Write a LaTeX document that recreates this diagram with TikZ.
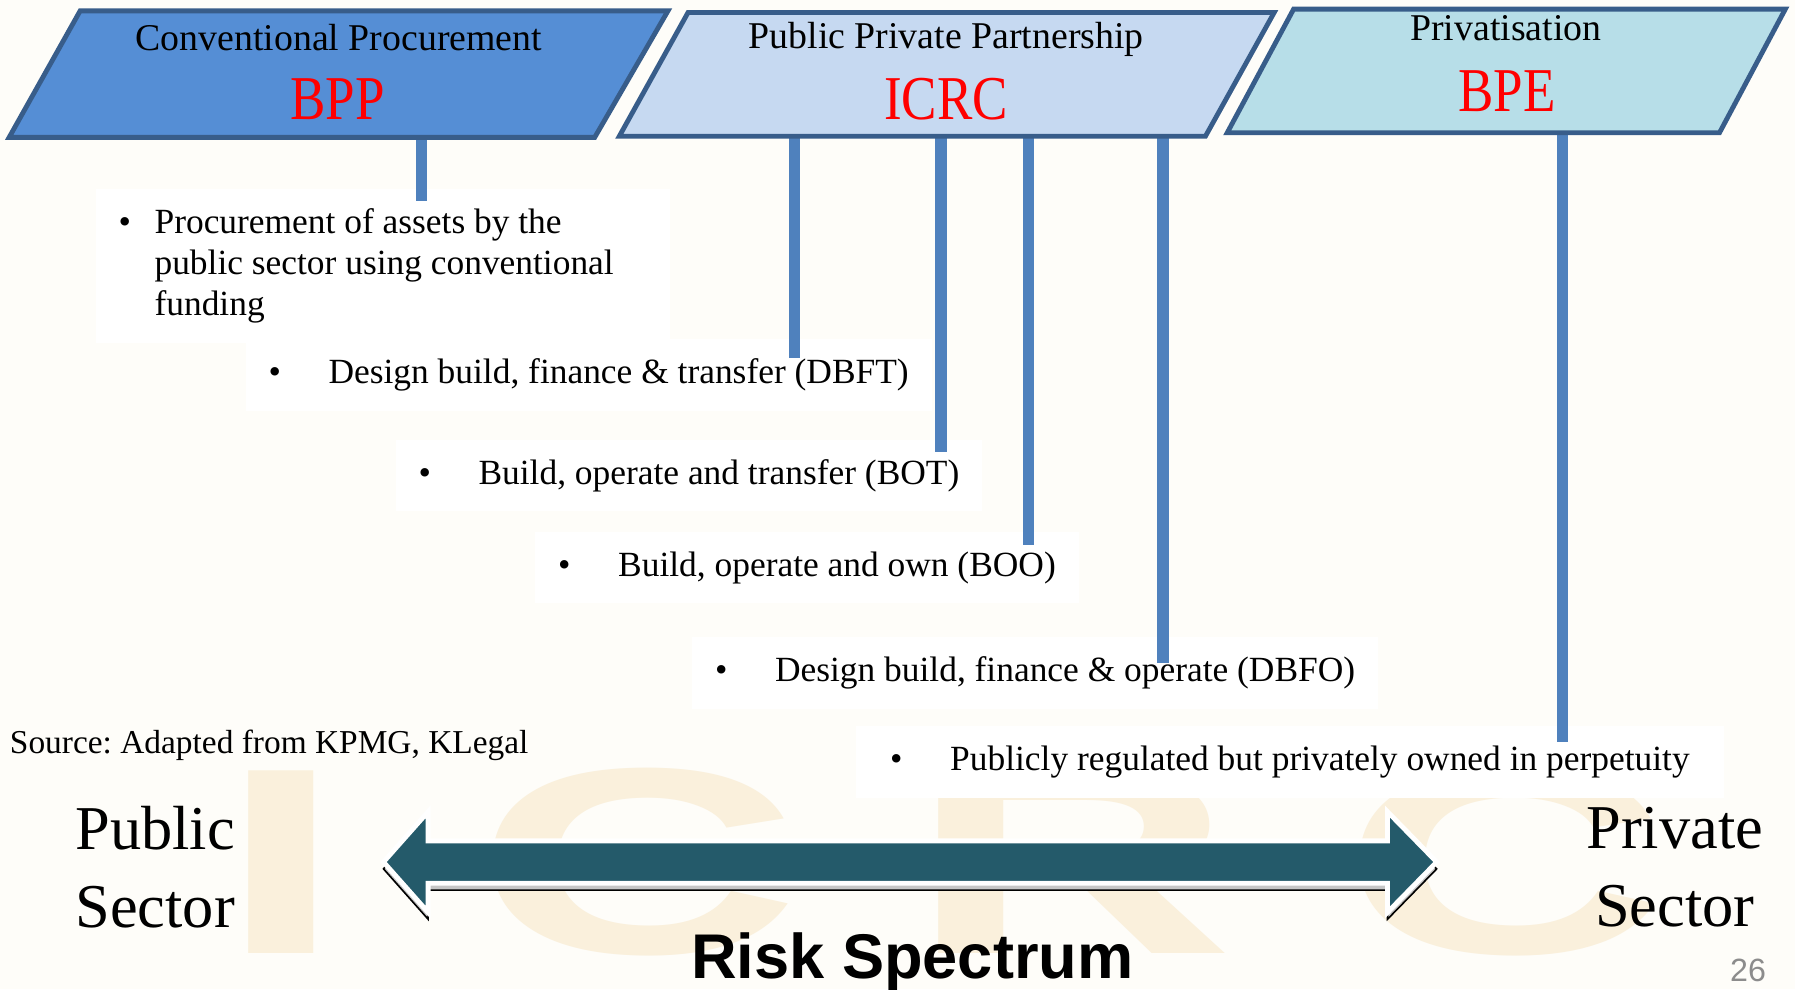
\documentclass[tikz,border=0pt]{standalone}
\usepackage{fontspec}
\setmainfont{Liberation Serif}
\newfontfamily\sansface{Liberation Sans}
\usepackage{graphicx}

\definecolor{pagebg}{RGB}{254,253,249}
\definecolor{convblue}{HTML}{558ED5}
\definecolor{pppblue}{HTML}{C6D9F1}
\definecolor{privteal}{HTML}{B7DEE8}
\definecolor{edgeblue}{HTML}{385D8A}
\definecolor{barblue}{HTML}{4F81BD}
\definecolor{arrowteal}{HTML}{245A6A}
\definecolor{markbeige}{RGB}{250,240,220}
\definecolor{pagegray}{RGB}{140,140,140}

\begin{document}
\begin{tikzpicture}[
    para/.style={draw=edgeblue, line width=1.2pt},
    head/.style={anchor=base, inner sep=0pt, font=\fontsize{9.4}{11}\selectfont},
    code/.style={anchor=base, inner sep=0pt, text=red, font=\fontsize{15.5}{18}\selectfont},
    item/.style={anchor=base west, fill=white, inner xsep=0.2cm, inner ysep=0.17cm,
      outer sep=0pt, font=\fontsize{8.8}{10.2}\selectfont},
    bar/.style={draw=barblue, line width=2.8pt},
    side/.style={align=center, inner sep=0pt, font=\fontsize{15.5}{19.3}\selectfont},
    logomark/.style={anchor=base west, inner sep=0pt, text=markbeige,
      font=\sansface\bfseries\fontsize{66}{70}\selectfont},
    shade/.style={fill=gray!45},
    spectrum/.style={fill=arrowteal, draw=white, line width=1.2pt}]
  \useasboundingbox[fill=pagebg] (0,0) rectangle (15.68,-8.64);

  % faint logo behind everything
  \node[logomark] (logo) at (1.90,-8.33) {\scalebox{1.7}[1]{I\hspace{0.675cm}C\hspace{0.55cm}R\hspace{0.55cm}C}};

  % the schemes
  \node[item] (procure) at (0.836,-2.04) {\textbullet\hspace{0.206cm}\parbox[t]{4.3cm}{Procurement of assets by the\\public sector using conventional\\funding}};
  \node[item] (dbft) at (2.146,-3.35) {\textbullet\hspace{0.416cm}Design build, finance \& transfer (DBFT)};
  \node[item] (bot) at (3.456,-4.23) {\textbullet\hspace{0.416cm}Build, operate and transfer (BOT)};
  \node[item] (boo) at (4.676,-5.035) {\textbullet\hspace{0.416cm}Build, operate and own (BOO)};
  \node[item] (dbfo) at (6.046,-5.955) {\textbullet\hspace{0.416cm}Design build, finance \& operate (DBFO)};
  \node[item, inner xsep=0.3cm] (regulated) at (7.476,-6.73) {\textbullet\hspace{0.416cm}Publicly regulated but privately owned in perpetuity};
  \node[anchor=base west, inner sep=0pt, font=\fontsize{8.3}{10}\selectfont] (source) at (0.08,-6.58) {\frenchspacing Source: Adapted from KPMG, KLegal};

  % the three kinds of procurement, with their feet
  \coordinate (convfoot) at (0.08,-1.20);
  \coordinate (pppfoot) at (5.41,-1.19);
  \coordinate (privfoot) at (10.72,-1.16);
  \coordinate (b1) at (3.68,-1.76);
  \coordinate (b2) at (6.94,-3.13);
  \coordinate (b3) at (8.22,-3.95);
  \coordinate (b4) at (8.985,-4.76);
  \coordinate (b5) at (10.16,-5.795);
  \coordinate (b6) at (13.65,-6.48);
  \foreach \src/\e in {convfoot/b1, pppfoot/b2, pppfoot/b3, pppfoot/b4, pppfoot/b5, privfoot/b6} {
    \draw[bar] (\src -| \e) -- (\e);
  }
  \draw[para, fill=convblue] (convfoot) -- (0.70,-0.095) -- (5.835,-0.095) -- (5.195,-1.20) -- cycle;
  \draw[para, fill=pppblue] (pppfoot) -- (6.01,-0.11) -- (11.13,-0.11) -- (10.53,-1.19) -- cycle;
  \draw[para, fill=privteal] (privfoot) -- (11.30,-0.08) -- (15.595,-0.08) -- (15.02,-1.16) -- cycle;
  \node[head] (convtxt) at (2.96,-0.437) {Conventional Procurement};
  \node[code] (bpp) at (2.95,-1.048) {\scalebox{0.85}[1]{BPP}};
  \node[head] (ppptxt) at (8.265,-0.422) {Public Private Partnership};
  \node[code] (icrc) at (8.265,-1.048) {\scalebox{0.85}[1]{ICRC}};
  \node[head] (privtxt) at (13.155,-0.35) {Privatisation};
  \node[code] (bpe) at (13.165,-0.976) {\scalebox{0.85}[1]{BPE}};

  % risk spectrum arrow
  \foreach \dy/\look in {-0.06/shade, 0/spectrum} {
    \draw[\look, yshift=\dy cm] (3.35,-7.53) -- (3.74,-7.09) -- (3.74,-7.345) -- (12.12,-7.345)
      -- (12.12,-7.09) -- (12.55,-7.53) -- (12.12,-7.97) -- (12.12,-7.715) -- (3.74,-7.715)
      -- (3.74,-7.97) -- cycle;
  }
  \node[side] (public) at (1.355,-7.573) {Public\\Sector};
  \node[side] (private) at (14.63,-7.573) {Private\\Sector};
  \node[anchor=base, inner sep=0pt, font=\sansface\bfseries\fontsize{15.7}{18}\selectfont] (risk) at (7.97,-8.55) {Risk Spectrum};
  \node[anchor=base, inner sep=0pt, text=pagegray, font=\sansface\fontsize{8}{9}\selectfont] (page) at (15.27,-8.57) {26};
\end{tikzpicture}
\end{document}
